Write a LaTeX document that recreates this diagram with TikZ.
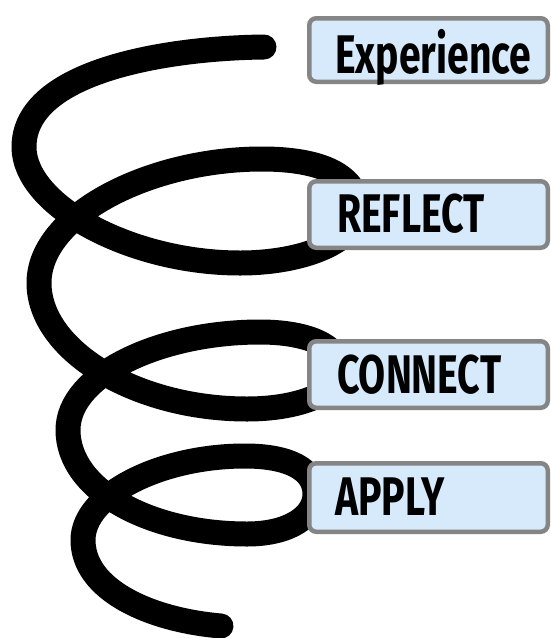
\documentclass[tikz,border=0pt]{standalone}
\usepackage{fontspec}
\newfontfamily\labfont[FakeStretch=0.72]{Fira Sans}
\definecolor{boxfill}{HTML}{D6EAFC}
\definecolor{boxline}{HTML}{858585}
\begin{document}
\begin{tikzpicture}[x=1pt,y=-1pt,
  coil/.style={line width=25pt,line cap=round,line join=round,black},
  stage/.style={draw=boxline,fill=boxfill,line width=4.5pt,rounded corners=7pt,
    minimum width=238.5pt,inner sep=0pt,outer sep=0pt},
  stagetext/.style={anchor=base west,inner sep=0pt,
    font=\labfont\bfseries\fontsize{54.4}{60}\selectfont}]
\useasboundingbox (0,0) rectangle (550,638);

% the coil, drawn from the top end down to the bottom end
\draw[coil] (264,47)
  .. controls (170,48) and (24,70) .. (24,147)
  .. controls (24,205) and (130,263) .. (240,263)
  .. controls (305,263) and (358,240) .. (358,210)
  .. controls (358,175) and (320,159) .. (262,159)
  .. controls (150,159) and (39,215) .. (39,283)
  .. controls (39,350) and (135,409) .. (247,409)
  .. controls (300,409) and (340,392) .. (340,370)
  .. controls (340,345) and (305,332) .. (260,332)
  .. controls (160,332) and (68,375) .. (68,430)
  .. controls (68,490) and (150,534) .. (247,534)
  .. controls (290,534) and (315,516) .. (315,494)
  .. controls (315,470) and (290,456) .. (245,456)
  .. controls (160,456) and (83,495) .. (83,540)
  .. controls (83,590) and (150,620) .. (221,626);

% stage boxes
\node[stage,minimum height=63.5pt] (exp)  at (428.5,50)  {};
\node[stage,minimum height=66.5pt] (refl) at (428.5,214.5) {};
\node[stage,minimum height=66.5pt] (conn) at (428.5,374.5) {};
\node[stage,minimum height=68.5pt] (appl) at (428.5,497.5) {};

% stage labels
\node[stagetext] (exp-t)  at (335,73)  {Experience};
\node[stagetext] (refl-t) at (337,232) {REFLECT};
\node[stagetext] (conn-t) at (337,393) {CONNECT};
\node[stagetext] (appl-t) at (335,515) {APPLY};
\end{tikzpicture}
\end{document}
